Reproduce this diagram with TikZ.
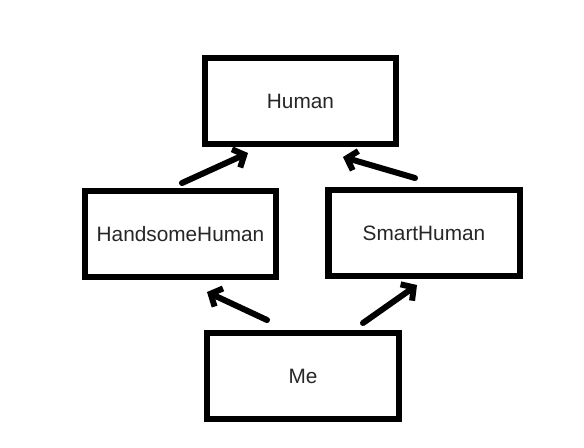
\documentclass[tikz,border=0pt]{standalone}
\usepackage{fontspec}
\setmainfont{Liberation Sans}
\usetikzlibrary{positioning,arrows.meta}

\begin{document}
\begin{tikzpicture}[>={Straight Barb[length=4.5pt,width=10pt]}]
\tikzstyle{box}=[draw,line width=3pt,outer sep=0pt,minimum width=95.5pt,minimum height=43pt,align=center,font=\fontsize{10.4}{12}\selectfont,text=black!85]
\tikzstyle{arr}=[->,line width=3pt,line cap=round,line join=round]
\useasboundingbox (-150.25pt,50.5pt) rectangle (141.75pt,-173pt);
\node[box] (human) {Human};
\node[box,below=23.5pt of human,xshift=-60pt] (hh) {HandsomeHuman};
\node[box,below=23pt of human,xshift=61.75pt] (sh) {SmartHuman};
\node[box,below=28pt of hh,xshift=61.25pt] (me) {Me};
\draw[arr] ([shift={(0.75pt,4pt)}]hh.north) -- ([shift={(-26.25pt,-4.5pt)}]human.south);
\draw[arr] ([shift={(-4.5pt,6pt)}]sh.north) -- ([shift={(21.25pt,-6.5pt)}]human.south);
\draw[arr] ([shift={(-18pt,6.5pt)}]me.north) -- ([shift={(13.25pt,-7.5pt)}]hh.south);
\draw[arr] ([shift={(30pt,5pt)}]me.north) -- ([shift={(-3.5pt,-4.5pt)}]sh.south);
\end{tikzpicture}
\end{document}
